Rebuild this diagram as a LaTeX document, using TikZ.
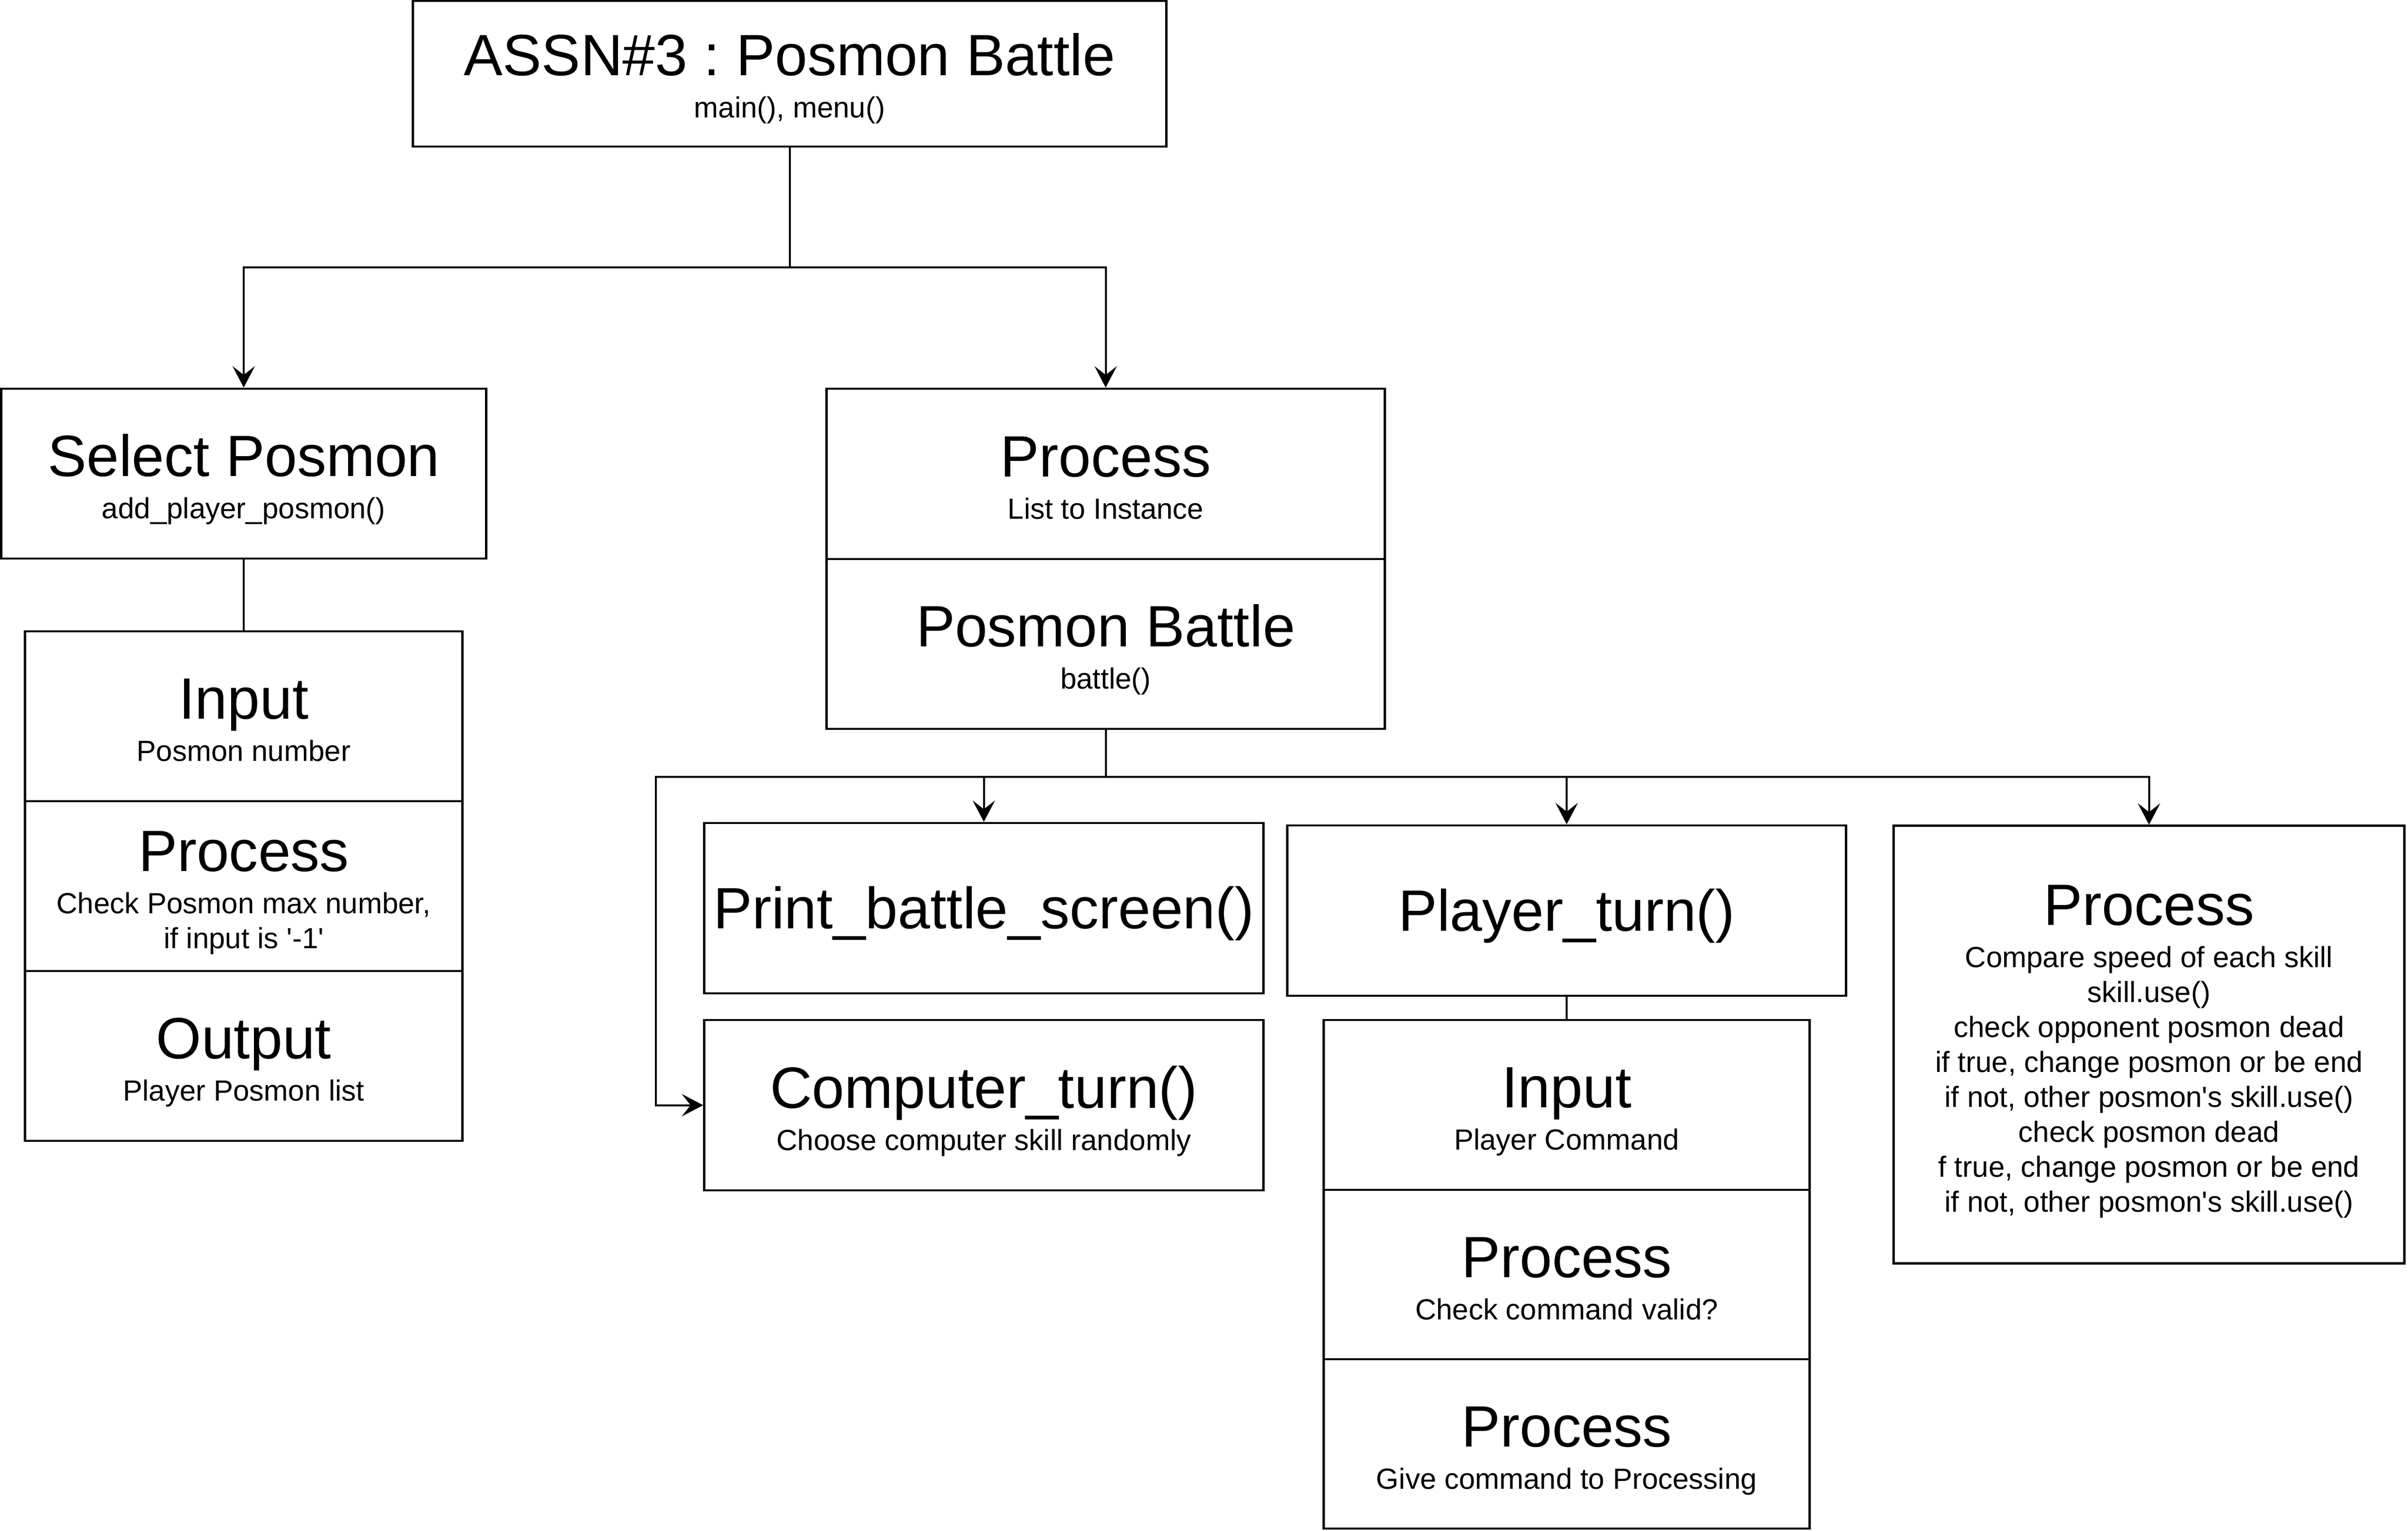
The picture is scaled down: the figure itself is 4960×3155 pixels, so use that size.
\documentclass[tikz,border=0pt]{standalone}
\usepackage{fontspec}
\setmainfont{Liberation Sans}
\newfontfamily\arial{Liberation Sans}
\usetikzlibrary{arrows.meta}
\tikzset{
  box/.style={draw=black, line width=0.045cm, inner sep=0pt, fill=white},
  conn/.style={draw=black, line width=0.04cm},
  arr/.style={conn, -{Stealth[length=0.44cm, width=0.46cm, inset=0.18cm]}},
  ttl/.style={anchor=base, inner sep=0pt, font=\arial\frenchspacing\fontsize{1.2cm}{1.44cm}\selectfont},
  sub/.style={anchor=base, inner sep=0pt, font=\arial\frenchspacing\fontsize{0.6cm}{0.72cm}\selectfont},
}
\newcommand\mkbox[5]{\node[box, minimum width=#4cm, minimum height=#5cm] (#1) at (#2,#3) {};}
\begin{document}
\begin{tikzpicture}[x=0.01cm, y=-0.01cm]
\useasboundingbox (0,0) rectangle (4960,3155);
% boxes
\mkbox{top}{1626.5}{152}{15.51}{3.00}
\mkbox{sel}{502}{976}{9.98}{3.50}
\mkbox{in1}{502}{1476}{9.00}{3.50}
\mkbox{pr1}{502}{1826}{9.00}{3.50}
\mkbox{out1}{502}{2176}{9.00}{3.50}
\mkbox{proc}{2277.5}{976.5}{11.49}{3.51}
\mkbox{battle}{2277.5}{1327}{11.49}{3.50}
\mkbox{print}{2026.5}{1871.5}{11.51}{3.51}
\mkbox{comp}{2026.5}{2277.5}{11.51}{3.51}
\mkbox{player}{3227}{1876.5}{11.50}{3.51}
\mkbox{in2}{3227}{2277}{10.00}{3.50}
\mkbox{pr2}{3227}{2626.5}{10.00}{3.49}
\mkbox{pr3}{3227}{2975.5}{10.00}{3.49}
\mkbox{rp}{4426.5}{2152.5}{10.51}{9.01}
% texts
\node[ttl] (top-t) at (1626.5,156) {ASSN\#3 : Posmon Battle};
\node[sub] (top-s) at (1626.5,243) {main(), menu()};
\node[ttl] (sel-t) at (502,981.6) {Select Posmon};
\node[sub] (sel-s) at (502,1068.6) {add\_player\_posmon()};
\node[ttl] (in1-t) at (502,1481.6) {Input};
\node[sub] (in1-s) at (502,1568.6) {Posmon number};
\node[ttl] (pr1-t) at (502,1795.6) {Process};
\node[sub] (pr1-s) at (502,1882.6) {Check Posmon max number,};
\node[sub] (pr1-u) at (502,1954.6) {if input is '-1'};
\node[ttl] (out1-t) at (502,2181.6) {Output};
\node[sub] (out1-s) at (502,2268.6) {Player Posmon list};
\node[ttl] (proc-t) at (2277.5,982.1) {Process};
\node[sub] (proc-s) at (2277.5,1069.1) {List to Instance};
\node[ttl] (battle-t) at (2277.5,1332.6) {Posmon Battle};
\node[sub] (battle-s) at (2277.5,1419.6) {battle()};
\node[ttl] (print-t) at (2026.5,1913.1) {Print\_battle\_screen()};
\node[ttl] (comp-t) at (2026.5,2283.1) {Computer\_turn()};
\node[sub] (comp-s) at (2026.5,2370.1) {Choose computer skill randomly};
\node[ttl] (player-t) at (3227,1918.1) {Player\_turn()};
\node[ttl] (in2-t) at (3227,2282.6) {Input};
\node[sub] (in2-s) at (3227,2369.6) {Player Command};
\node[ttl] (pr2-t) at (3227,2632.1) {Process};
\node[sub] (pr2-s) at (3227,2719.1) {Check command valid?};
\node[ttl] (pr3-t) at (3227,2981.1) {Process};
\node[sub] (pr3-s) at (3227,3068.1) {Give command to Processing};
\node[ttl] (rp-t) at (4426.5,1906.1) {Process};
\foreach [count=\i from 0] \t in {{Compare speed of each skill},{skill.use()},{check opponent posmon dead},{if true, change posmon or be end},{if not, other posmon's skill.use()},{check posmon dead},{f true, change posmon or be end},{if not, other posmon's skill.use()}}
  \node[sub] (rp-s\i) at (4426.5,1993.1+72*\i) {\t};
% connectors
\coordinate (j1) at (1626.5,551);
\draw[conn] (top.south) -- (j1);
\draw[arr] (j1) -| (sel.north);
\draw[arr] (j1) -| (proc.north);
\draw[conn] (sel.south) -- (in1.north);
\coordinate (j2) at (2277.5,1601);
\coordinate (jl) at (1351,1601);
\draw[conn] (battle.south) -- (j2);
\draw[arr] (j2) -| (print.north);
\draw[arr] (j2) -| (player.north);
\draw[arr] (j2) -| (rp.north);
\draw[arr] (j2) -- (jl) |- (comp.west);
\draw[conn] (player.south) -- (in2.north);
\end{tikzpicture}
\end{document}
